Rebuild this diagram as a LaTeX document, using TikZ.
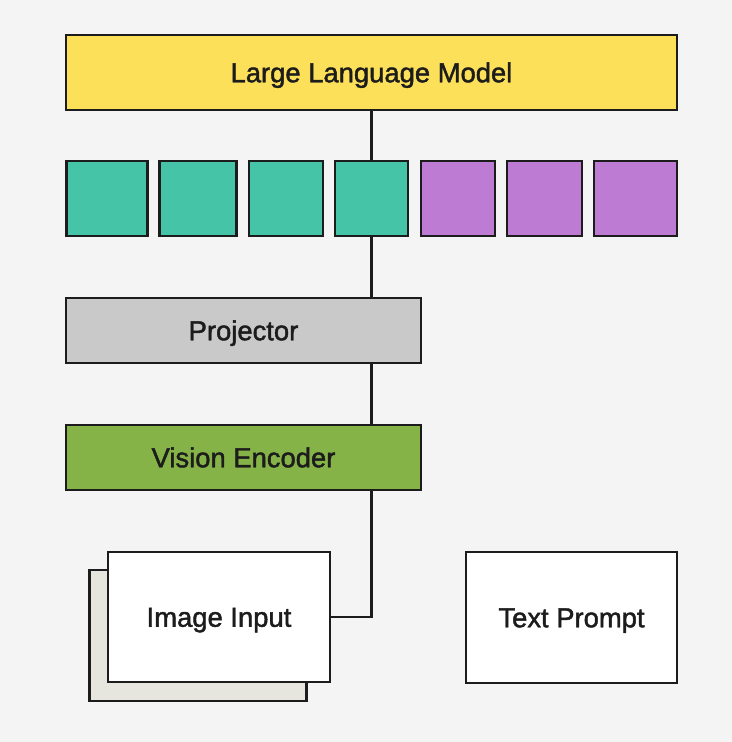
\documentclass[tikz,border=0pt]{standalone}
\usepackage{fontspec}
\setmainfont{Liberation Sans}
\newfontfamily\medfont[FakeBold=1.6]{Liberation Sans}
\definecolor{bgc}{HTML}{F4F4F4}
\definecolor{llmc}{HTML}{FCE05A}
\definecolor{tealc}{HTML}{45C4A8}
\definecolor{purc}{HTML}{BE7BD3}
\definecolor{projc}{HTML}{C9C9C9}
\definecolor{vec}{HTML}{86B348}
\definecolor{shadc}{HTML}{E6E6DE}
\definecolor{inkc}{HTML}{1C1C1C}
\begin{document}
\begin{tikzpicture}[x=1bp,y=-1bp,
  box/.style={draw=inkc, line width=2.6bp, inner sep=0pt, text=inkc,
    text height=19.5bp, text depth=0pt,
    font=\medfont\fontsize{27.5}{30}\selectfont},
  tok/.style={box, minimum height=75bp},
  wire/.style={draw=inkc, line width=2.6bp}]
\fill[bgc] (0,0) rectangle (732,742);
\useasboundingbox (0,0) rectangle (732,742);
\node[box, fill=llmc, minimum width=611bp, minimum height=75bp] (llm) at (371.5,72.5) {Large Language Model};
\node[tok, fill=tealc, minimum width=81bp] (t1) at (106.8,198.5) {};
\node[tok, fill=tealc, minimum width=77bp] (t2) at (198.2,198.5) {};
\node[tok, fill=tealc, minimum width=74bp] (t3) at (285.9,198.5) {};
\node[tok, fill=tealc, minimum width=73bp] (t4) at (371.5,198.5) {};
\node[tok, fill=purc, minimum width=74bp] (t5) at (457.8,198.5) {};
\node[tok, fill=purc, minimum width=75bp] (t6) at (544.5,198.5) {};
\node[tok, fill=purc, minimum width=83bp] (t7) at (635.5,198.5) {};
\node[box, fill=projc, minimum width=355bp, minimum height=65bp] (proj) at (243.5,330.5) {Projector};
\node[box, fill=vec, minimum width=355bp, minimum height=65bp] (ve) at (243.5,457.5) {Vision Encoder};
\node[box, fill=shadc, minimum width=217bp, minimum height=131bp] (shad) at (198,635.5) {};
\node[box, fill=white, minimum width=222bp, minimum height=130bp] (img) at (219,617) {Image Input};
\node[box, fill=white, minimum width=211bp, minimum height=131bp] (txt) at (571.5,617.5) {Text Prompt};
\draw[wire] (llm.south) -- (t4.north);
\draw[wire] (t4.south) -- (t4.south |- proj.north);
\draw[wire] (t4.south |- proj.south) -- (t4.south |- ve.north);
\draw[wire] (t4.south |- ve.south) |- (img.east);
\end{tikzpicture}
\end{document}
